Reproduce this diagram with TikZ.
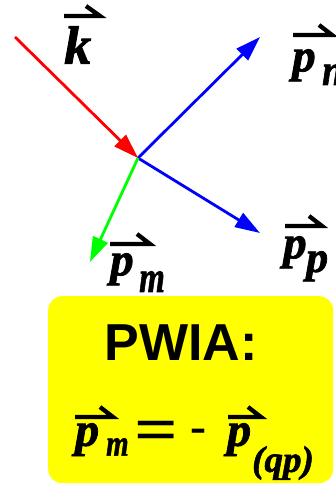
\documentclass[tikz,border=0pt]{standalone}
\usepackage{fontspec}
\setmainfont{Liberation Serif}[BoldItalicFeatures={FakeBold=1.6}]
\newfontfamily\sansfam{Liberation Sans}
\usetikzlibrary{arrows.meta}
\definecolor{pyellow}{RGB}{255,255,0}
\definecolor{pred}{RGB}{255,0,0}
\definecolor{pblue}{RGB}{0,0,255}
\definecolor{pgreen}{RGB}{0,255,0}
\begin{document}
\begin{tikzpicture}[x=1pt,y=-1pt,
  vecline/.style={line width=2.8pt,-{Triangle[length=25pt,width=16pt]}},
  lab/.style={inner sep=0pt,anchor=north west,font=\fontsize{47}{47}\selectfont\bfseries\itshape},
  sublab/.style={inner sep=0pt,anchor=north west,font=\fontsize{44}{44}\selectfont\bfseries\itshape},
  eqlab/.style={inner sep=0pt,anchor=north west,font=\fontsize{48}{48}\selectfont\bfseries\itshape},
  eqsub/.style={inner sep=0pt,anchor=north west,font=\fontsize{37}{37}\selectfont\bfseries\itshape},
  harp/.style={line width=4.3pt,line join=miter,miter limit=4,line cap=butt}]
\useasboundingbox (0,0) rectangle (335,484);
% box
\node[fill=pyellow,rounded corners=14pt,minimum width=285pt,minimum height=187pt,
      inner sep=0pt,anchor=north west] (box) at (48,296) {};
% vectors
\coordinate (c) at (138,158);
\coordinate (ks) at (15,37);
\coordinate (pnE) at (260,37);
\coordinate (ppE) at (260,233);
\coordinate (pmE) at (90,262);
\draw[vecline,pred] (ks) -- (c);
\draw[vecline,pblue] (c) -- (pnE);
\draw[vecline,pblue] (c) -- (ppE);
\draw[vecline,pgreen] (c) -- (pmE);
% labels
\node[lab,font=\fontsize{54}{54}\selectfont\bfseries\itshape] (k) at (64,26) {k};
\draw[harp] ([shift={(0,-10)}]k.north west) -- ++(36,0) -- ++(-14,-10);
\node[lab] (pn) at (292,49) {p};
\node[sublab] (pns) at (322,64) {\scalebox{0.85}[1]{n}};
\draw[harp] ([shift={(1,-14)}]pn.north west) -- ++(39,0) -- ++(-13,-10);
\node[lab] (pp) at (283,236) {p};
\node[sublab] (pps) at (306,251) {p};
\draw[harp] ([shift={(2,-10)}]pp.north west) -- ++(37,0) -- ++(-13,-10);
\node[lab] (pm) at (110,253) {p};
\node[sublab] (pms) at (139,271) {\scalebox{0.75}[1]{m}};
\draw[harp] ([shift={(0,-9)}]pm.north west) -- ++(40,0) -- ++(-13,-10);
% box text
\node[font=\sansfam\bfseries\fontsize{52}{52}\selectfont,inner sep=0pt] (pwia) at (181,342.5) {PWIA:};
\node[eqlab] (e1) at (75,423) {p};
\node[eqsub] (e1s) at (106,438) {\scalebox{0.78}[1]{m}};
\node[inner sep=0pt,font=\fontsize{48}{48}\selectfont\bfseries] (eq) at (156,436.5) {\scalebox{1.6}[1.35]{=}};
\node[inner sep=0pt,font=\fontsize{48}{48}\selectfont\bfseries] (mn) at (198,435.5) {-};
\node[eqlab] (e2) at (227,423) {p};
\node[eqsub] (e2s) at (252,446) {(qp)};
\draw[harp] ([shift={(0,-6)}]e1.north west) -- ++(38,0) -- ++(-13,-10);
\draw[harp] ([shift={(1,-6)}]e2.north west) -- ++(33,0) -- ++(-13,-10);
\end{tikzpicture}
\end{document}
